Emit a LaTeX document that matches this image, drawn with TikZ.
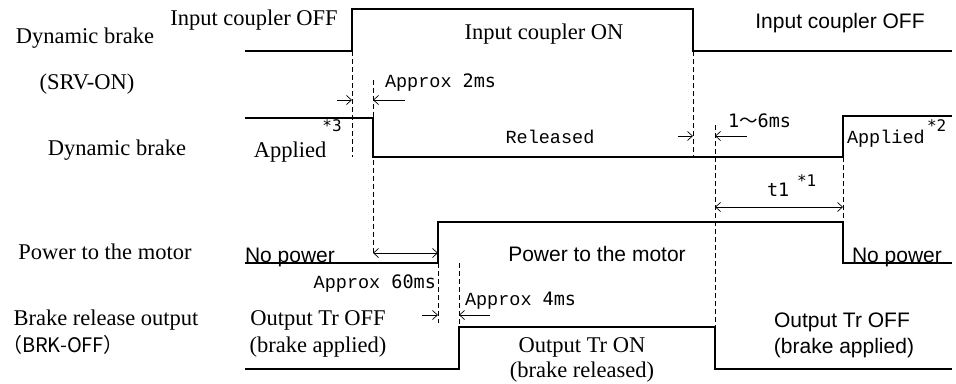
\documentclass[tikz,border=0pt]{standalone}
\usepackage{fontspec}
\setmainfont{Liberation Serif}
\newfontfamily\sansf{Liberation Sans}
\newfontfamily\minch{Liberation Mono}
\newfontfamily\goth{DejaVu Sans Mono}
\newfontfamily\cjk{Noto Sans CJK JP}
\usetikzlibrary{arrows.meta}
\tikzset{
  txt/.style={inner sep=0pt, outer sep=0pt},
  serif/.style={txt, font=\fontsize{22.5}{22}\selectfont},
  sans/.style={txt, font=\sansf\fontsize{21}{21}\selectfont},
  mono/.style={txt, font=\minch\fontsize{18.5}{20}\selectfont},
  star/.style={txt, font=\goth\fontsize{16}{16}\selectfont},
  sig/.style={line width=2.6pt, line join=miter},
  dsh/.style={line width=0.8pt, dash pattern=on 5pt off 3pt},
  dimline/.style={line width=0.7pt, -{Straight Barb[length=5pt,width=9pt]}},
  dimboth/.style={line width=0.7pt, {Straight Barb[length=5pt,width=9pt]}-{Straight Barb[length=5pt,width=9pt]}}
}
\begin{document}
\begin{tikzpicture}[x=1pt,y=-1pt]
\useasboundingbox (0,0) rectangle (956,383);

% ---- waveform corners ----
\coordinate (a0) at (245,51); \coordinate (a1) at (352,51); \coordinate (a2) at (352,9);
\coordinate (a3) at (693,9); \coordinate (a4) at (693,51); \coordinate (a5) at (952,51);
\coordinate (b0) at (245,118); \coordinate (b1) at (373,118); \coordinate (b2) at (373,157);
\coordinate (b3) at (843,157); \coordinate (b4) at (843,116); \coordinate (b5) at (952,116);
\coordinate (c0) at (245,263); \coordinate (c1) at (438,263); \coordinate (c2) at (438,222);
\coordinate (c3) at (843,222); \coordinate (c4) at (843,263); \coordinate (c5) at (952,263);
\coordinate (d0) at (245,369); \coordinate (d1) at (459,369); \coordinate (d2) at (459,327);
\coordinate (d3) at (715,327); \coordinate (d4) at (715,369); \coordinate (d5) at (952,369);

\draw[sig] (a0) -- (a1) -- (a2) -- (a3) -- (a4) -- (a5);
\draw[sig] (b0) -- (b1) -- (b2) -- (b3) -- (b4) -- (b5);
\draw[sig] (c0) -- (c1) -- (c2) -- (c3) -- (c4) -- (c5);
\draw[sig] (d0) -- (d1) -- (d2) -- (d3) -- (d4) -- (d5);

% ---- dashed guides ----
\coordinate (g1) at (352,157);
\coordinate (g2t) at (373,80); \coordinate (g2b) at (373,253);
\coordinate (g3) at (693,157);
\coordinate (g4t) at (715,125);
\coordinate (g6b) at (438,323);
\coordinate (g7t) at (459,263);
\draw[dsh] (a1) -- (g1);
\draw[dsh] (g2t) -- (g2b);
\draw[dsh] (a4) -- (g3);
\draw[dsh] (g4t) -- (d3);
\draw[dsh] (b3) -- (c3);
\draw[dsh] (c1) -- (g6b);
\draw[dsh] (g7t) -- (d2);

% ---- dimension arrows ----
\coordinate (p1) at (337,100); \coordinate (p2) at (352,100);
\coordinate (p3) at (405,100); \coordinate (p4) at (373,100);
\draw[dimline] (p1) -- (p2);
\draw[dimline] (p3) -- (p4);
\coordinate (q1) at (678,136); \coordinate (q2) at (693,136);
\coordinate (q3) at (747,136); \coordinate (q4) at (715,136);
\draw[dimline] (q1) -- (q2);
\draw[dimline] (q3) -- (q4);
\coordinate (r1) at (373,253); \coordinate (r2) at (438,253);
\draw[dimboth] (r1) -- (r2);
\coordinate (s1) at (715,207); \coordinate (s2) at (843,207);
\draw[dimboth] (s1) -- (s2);
\coordinate (u1) at (422,315); \coordinate (u2) at (438,315);
\coordinate (u3) at (490,315); \coordinate (u4) at (459,315);
\draw[dimline] (u1) -- (u2);
\draw[dimline] (u3) -- (u4);

% ---- left labels ----
\node[serif, anchor=base] (l1) at (85,43) {Dynamic brake};
\node[serif, anchor=base] (l2) at (87,89) {(SRV-ON)};
\node[serif, anchor=base] (l3) at (117,155) {Dynamic brake};
\node[serif, anchor=base] (l4) at (105,259) {Power to the motor};
\node[serif, anchor=base] (l5) at (106,325) {Brake release output};
\node[txt, anchor=base west, font=\cjk\fontsize{20}{20}\selectfont] (l6) at (2,352) {（BRK-OFF）};

% ---- row 1 texts ----
\node[serif, anchor=base] (t1) at (254,25) {Input coupler OFF};
\node[serif, anchor=base] (t2) at (544,39) {Input coupler ON};
\node[sans, anchor=base] (t3) at (840,28) {Input coupler OFF};

% ---- row 2 texts ----
\node[mono, anchor=base west] (t4) at (385,87) {Approx {\goth 2ms}};
\node[star, anchor=base] (t5) at (332,131) {*3};
\node[serif, anchor=base] (t6) at (290,157) {Applied};
\node[mono, anchor=base] (t7) at (550,143) {Released};
\node[txt, anchor=base west, font=\goth\fontsize{18.5}{20}\selectfont] (t8) at (728,127) {1{\cjk 〜}6ms};
\node[mono, anchor=base west] (t9) at (847,143) {Applied};
\node[star, anchor=base west] (t10) at (927,131) {*2};
\node[txt, anchor=base west, font=\goth\fontsize{18.5}{20}\selectfont] (t11) at (767,196) {t1};
\node[star, anchor=base west] (t12) at (797,186) {*1};

% ---- row 3 texts ----
\node[sans, anchor=base west] (t13) at (245,262) {No power};
\node[sans, anchor=base] (t14) at (597,261) {Power to the motor};
\node[sans, anchor=base west] (t15) at (852,262) {No power};
\node[mono, anchor=base east] (t16) at (436,288) {Approx {\goth 60ms}};

% ---- row 4 texts ----
\node[mono, anchor=base west] (t17) at (465,305) {Approx {\goth 4ms}};
\node[serif, anchor=base] (t18) at (318,325) {Output Tr OFF};
\node[serif, anchor=base] (t19) at (318,352) {(brake applied)};
\node[serif, anchor=base] (t20) at (582,352) {Output Tr ON};
\node[serif, anchor=base] (t21) at (582,377) {(brake released)};
\node[sans, anchor=base] (t22) at (842,327) {Output Tr OFF};
\node[sans, anchor=base] (t23) at (844,353) {(brake applied)};
\end{tikzpicture}
\end{document}
